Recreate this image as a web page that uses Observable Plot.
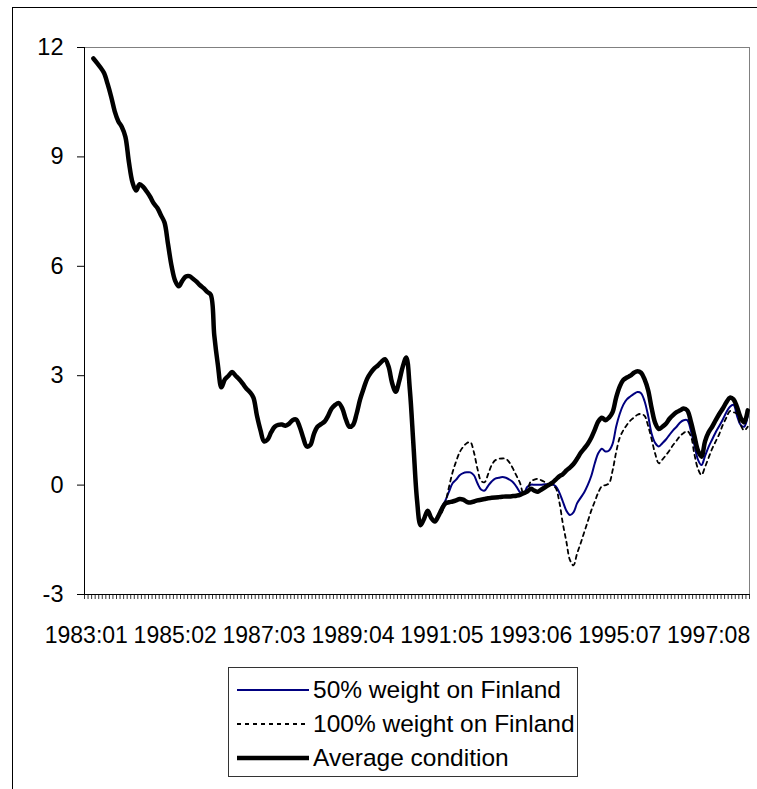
<!DOCTYPE html>
<html><head><meta charset="utf-8">
<script src="https://cdn.jsdelivr.net/npm/d3@7"></script>
<script src="https://cdn.jsdelivr.net/npm/@observablehq/plot@0.6"></script>
<style>
body{margin:0;background:#fff;font-family:"Liberation Sans",Arial,sans-serif;}
#wrap{position:relative;width:757px;height:789px;overflow:hidden;background:#fff;}
#frame{position:absolute;left:12px;top:7px;width:900px;height:900px;border-left:1px solid #000;border-top:1px solid #000;}
#chart{position:absolute;left:0;top:0;}
#legend{position:absolute;left:228px;top:667px;width:348px;height:108px;border:1px solid #333;overflow:hidden;background:#fff;}
.row{position:absolute;left:0;height:34px;width:400px;}
.row svg{position:absolute;left:6px;top:0;}
.row span{position:absolute;left:84px;top:3px;font-size:24.5px;line-height:28px;white-space:nowrap;color:#000;}
</style></head><body>
<div id="wrap"><div id="frame"></div><div id="chart"></div><div id="legend"></div></div>
<script>
const monthCount = 187; // 1983:01 ... 1998:07
const xTickIndex = [0, 25, 50, 75, 100, 125, 150, 175];
const xTickLabels = ["1983:01", "1985:02", "1987:03", "1989:04", "1991:05", "1993:06", "1995:07", "1997:08"];
const yTicks = [-3, 0, 3, 6, 9, 12];
const seriesNames = ["50% weight on Finland", "100% weight on Finland", "Average condition"];

const avgCondition = [
  null, null, 11.7, 11.58, 11.45, 11.3, 11.0, 10.65, 10.25, 9.98,
  9.82, 9.55, 8.85, 8.3, 8.08, 8.25, 8.18, 8.05, 7.9, 7.72,
  7.6, 7.4, 7.2, 6.6, 6.0, 5.6, 5.45, 5.6, 5.72, 5.73,
  5.66, 5.58, 5.48, 5.4, 5.3, 5.22, 4.1, 3.3, 2.68, 2.9,
  3.0, 3.1, 3.0, 2.9, 2.78, 2.65, 2.55, 2.4, 1.9, 1.5,
  1.2, 1.25, 1.45, 1.6, 1.65, 1.66, 1.63, 1.68, 1.78, 1.8,
  1.6, 1.3, 1.06, 1.1, 1.4, 1.6, 1.67, 1.74, 1.9, 2.1,
  2.2, 2.25, 2.1, 1.8, 1.6, 1.65, 1.95, 2.35, 2.65, 2.92,
  3.08, 3.2, 3.28, 3.38, 3.45, 3.25, 2.8, 2.56, 2.85, 3.25,
  3.5, 2.6, 1.1, -0.4, -1.1, -0.92, -0.7, -0.9, -1.0, -0.85,
  -0.65, -0.5, -0.47, -0.45, -0.42, -0.38, -0.4, -0.46, -0.48, -0.45,
  -0.42, -0.4, -0.38, -0.36, -0.35, -0.34, -0.33, -0.32, -0.31, -0.31,
  -0.3, -0.29, -0.27, -0.22, -0.18, -0.1, -0.15, -0.18, -0.12, -0.06,
  0.0, 0.06, 0.15, 0.24, 0.3, 0.4, 0.48, 0.58, 0.72, 0.88,
  1.0, 1.13, 1.3, 1.52, 1.75, 1.85, 1.78, 1.85, 2.0, 2.4,
  2.7, 2.88, 2.95, 3.0, 3.08, 3.12, 3.08, 2.9, 2.6, 2.1,
  1.7, 1.54, 1.6, 1.68, 1.82, 1.92, 2.0, 2.05, 2.1, 2.05,
  1.75, 1.35, 0.95, 0.78, 1.2, 1.45, 1.6, 1.78, 1.95, 2.1,
  2.27, 2.4, 2.35, 2.14, 1.85, 1.72, 2.05
];

const weightStart = 100; // month index of 1991:05
const weight50 = [
  -0.6, -0.42, -0.18, 0.05, 0.15, 0.27, 0.33, 0.35, 0.35, 0.27,
  0.05, -0.12, -0.15, -0.02, 0.1, 0.18, 0.2, 0.22, 0.2, 0.15,
  0.08, -0.05, -0.2, -0.24, -0.05, 0.01, 0.01, 0.01, 0.01, 0.02,
  0.02, 0.02, -0.03, -0.2, -0.45, -0.7, -0.82, -0.75, -0.5, -0.35,
  -0.2, 0.0, 0.25, 0.6, 0.88, 1.0, 0.92, 0.95, 1.13, 1.6,
  1.95, 2.2, 2.35, 2.43, 2.5, 2.55, 2.52, 2.3, 1.9, 1.4,
  1.15, 1.06, 1.15, 1.25, 1.38, 1.5, 1.6, 1.72, 1.78, 1.78,
  1.5, 1.1, 0.7, 0.55, 0.8, 1.05, 1.25, 1.45, 1.62, 1.8,
  2.0, 2.15, 2.2, 1.9, 1.65, 1.6, 1.9
];
const weight100 = [
  -0.75, -0.47, -0.05, 0.35, 0.65, 0.9, 1.05, 1.15, 1.18, 0.9,
  0.45, 0.12, 0.08, 0.3, 0.55, 0.68, 0.72, 0.73, 0.72, 0.62,
  0.45, 0.25, 0.05, -0.25, -0.15, 0.1, 0.15, 0.17, 0.13, 0.08,
  0.03, -0.01, -0.08, -0.45, -1.05, -1.55, -2.05, -2.2, -1.88, -1.6,
  -1.3, -1.0, -0.7, -0.45, -0.2, -0.03, 0.0, 0.05, 0.4, 0.9,
  1.3, 1.5, 1.65, 1.77, 1.85, 1.93, 1.95, 1.9, 1.62, 1.25,
  0.85, 0.6, 0.7, 0.82, 0.95, 1.1, 1.22, 1.35, 1.43, 1.48,
  1.35, 0.85, 0.45, 0.28, 0.5, 0.75, 1.0, 1.2, 1.4, 1.65,
  1.85, 2.03, 2.0, 1.95, 1.65, 1.5, 1.6
];

const avgRows = avgCondition.map((v, i) => ({i, v}));
const w50Rows = weight50.map((v, k) => ({i: weightStart + k, v}));
const w100Rows = weight100.map((v, k) => ({i: weightStart + k, v}));
const boundaries = d3.range(monthCount + 1).map(k => k - 0.5);

const styles = [
  {stroke: "#000080", strokeWidth: 2, dash: null},
  {stroke: "#000000", strokeWidth: 1.8, dash: "4,4"},
  {stroke: "#000000", strokeWidth: 4.5, dash: null}
];

const chart = Plot.plot({
  width: 757, height: 650,
  marginLeft: 84, marginRight: 8, marginTop: 47, marginBottom: 56,
  style: {fontFamily: '"Liberation Sans", Arial, sans-serif', fontSize: "23px", color: "#000", background: "transparent", overflow: "visible"},
  x: {type: "linear", domain: [-0.5, monthCount - 0.5], axis: null},
  y: {domain: [-3, 12], axis: null},
  marks: [
    Plot.frame({stroke: "#808080"}),
    Plot.axisY({ticks: yTicks, tickSize: 7, tickPadding: 14, fontSize: 23.5, stroke: "#000", label: null,
      tickFormat: d => String(d)}),
    Plot.axisX({ticks: boundaries, tickSize: 5, tickFormat: () => "", stroke: "#000", strokeWidth: 0.8, label: null}),
    Plot.axisX({ticks: xTickIndex, tickSize: 0, tickPadding: 32, fontSize: 23, label: null,
      tickFormat: d => xTickLabels[xTickIndex.indexOf(d)]}),
    Plot.ruleX([-0.5], {stroke: "#000"}),
    Plot.ruleY([-3], {stroke: "#000"}),
    Plot.line(w50Rows, {x: "i", y: "v", stroke: styles[0].stroke, strokeWidth: styles[0].strokeWidth, curve: "catmull-rom"}),
    Plot.line(w100Rows, {x: "i", y: "v", stroke: styles[1].stroke, strokeWidth: styles[1].strokeWidth, strokeDasharray: styles[1].dash, curve: "catmull-rom"}),
    Plot.line(avgRows, {x: "i", y: "v", stroke: styles[2].stroke, strokeWidth: styles[2].strokeWidth, curve: "catmull-rom", strokeLinejoin: "round", strokeLinecap: "round"})
  ]
});
document.getElementById("chart").appendChild(chart);

const legend = document.getElementById("legend");
seriesNames.forEach((name, k) => {
  const row = document.createElement("div");
  row.className = "row";
  row.style.top = (5 + k * 34) + "px";
  const st = styles[k];
  row.innerHTML = `<svg width="76" height="34"><line x1="2" x2="74" y1="17" y2="17" stroke="${st.stroke}" stroke-width="${st.strokeWidth}" ${st.dash ? `stroke-dasharray="${st.dash}"` : ""}/></svg><span>${name}</span>`;
  legend.appendChild(row);
});
</script>
</body></html>
